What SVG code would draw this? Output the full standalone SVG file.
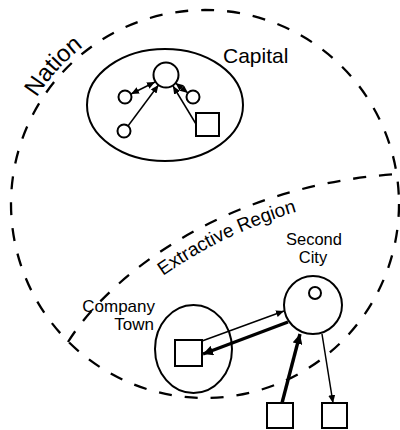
<svg xmlns="http://www.w3.org/2000/svg" width="400" height="430" viewBox="0 0 400 430">
  <style>
    .bound { fill: none; stroke: #000; stroke-width: 2.3; stroke-dasharray: 13 13; }
    .shape { fill: #fff; stroke: #000; stroke-width: 2; }
    .ring { fill: none; stroke: #000; stroke-width: 2; }
    .link { fill: none; stroke: #000; stroke-width: 1.5; }
    .heavy { fill: none; stroke: #000; stroke-width: 3.4; }
    .label { font-family: "Liberation Sans", Arial, Helvetica, sans-serif; fill: #000; }
  </style>
  <defs>
    <marker id="head" markerUnits="userSpaceOnUse" markerWidth="10" markerHeight="8" refX="8" refY="3.5" orient="auto-start-reverse">
      <path d="M0,0 L8,3.5 L0,7 Z" fill="#000"/>
    </marker>
    <marker id="headBig" markerUnits="userSpaceOnUse" markerWidth="12" markerHeight="10" refX="10" refY="5" orient="auto">
      <path d="M0,0 L10,5 L0,10 Z" fill="#000"/>
    </marker>
    <path id="nationArc" d="M6,204 A199,199 0 0 1 205,5"/>
    <path id="regionArc" d="M80,360 C122,293 237,203 410,192"/>
  </defs>

  <!-- regional boundaries -->
  <g id="nation">
    <circle class="bound" cx="205" cy="204" r="194"/>
    <text class="label" font-size="24"><textPath href="#nationArc" startOffset="47%" text-anchor="middle">Nation</textPath></text>
  </g>
  <g id="extractive-region">
    <path class="bound" d="M68,342 C110,275 225,185 398,174"/>
    <text class="label" font-size="19"><textPath href="#regionArc" startOffset="50.5%" text-anchor="middle">Extractive Region</textPath></text>
  </g>

  <!-- capital cluster -->
  <g id="capital">
    <ellipse class="ring" cx="165" cy="105" rx="78" ry="56"/>
    <text class="label" x="223" y="63" font-size="21">Capital</text>
  </g>
  <g id="capital-hub"><circle class="shape" cx="166" cy="75" r="12.5"/></g>
  <g id="capital-left"><circle class="shape" cx="125" cy="97" r="6.5"/></g>
  <g id="capital-right"><circle class="shape" cx="193" cy="97" r="6.5"/></g>
  <g id="capital-lower"><circle class="shape" cx="124" cy="131" r="6.5"/></g>
  <g id="capital-square"><rect class="shape" x="196" y="113" width="23" height="23"/></g>

  <!-- second city -->
  <g id="second-city">
    <circle class="shape" cx="313" cy="305" r="29"/>
    <circle class="ring" cx="315" cy="293" r="6"/>
    <text class="label" font-size="16.5" text-anchor="middle"><tspan x="314" y="245">Second</tspan><tspan x="313" y="263">City</tspan></text>
  </g>

  <!-- company town -->
  <g id="company-town">
    <ellipse class="ring" cx="193.5" cy="349" rx="38.5" ry="44"/>
    <rect class="shape" x="175" y="340" width="27" height="26"/>
    <text class="label" font-size="17" text-anchor="end"><tspan x="155" y="312">Company</tspan><tspan x="154" y="330">Town</tspan></text>
  </g>

  <!-- outlying sites -->
  <g id="site-left"><rect class="shape" x="267" y="403" width="26" height="25"/></g>
  <g id="site-right"><rect class="shape" x="322" y="403" width="25" height="25"/></g>

  <!-- flows -->
  <g id="connectors">
    <line class="link" x1="131" y1="94" x2="155" y2="82" marker-start="url(#head)" marker-end="url(#head)"/>
    <line class="link" x1="175.5" y1="83" x2="188" y2="93" marker-start="url(#head)" marker-end="url(#head)"/>
    <line class="link" x1="128" y1="126" x2="158.5" y2="85" marker-end="url(#head)"/>
    <line class="link" x1="196" y1="124" x2="173" y2="86" marker-end="url(#head)"/>
    <line class="link" x1="202" y1="341" x2="284" y2="311" marker-end="url(#head)"/>
    <line class="heavy" x1="288" y1="322" x2="203" y2="354" marker-end="url(#headBig)"/>
    <line class="heavy" x1="282" y1="403" x2="300" y2="334" marker-end="url(#headBig)"/>
    <line class="link" x1="322" y1="334" x2="333" y2="403" marker-end="url(#head)"/>
  </g>
</svg>
